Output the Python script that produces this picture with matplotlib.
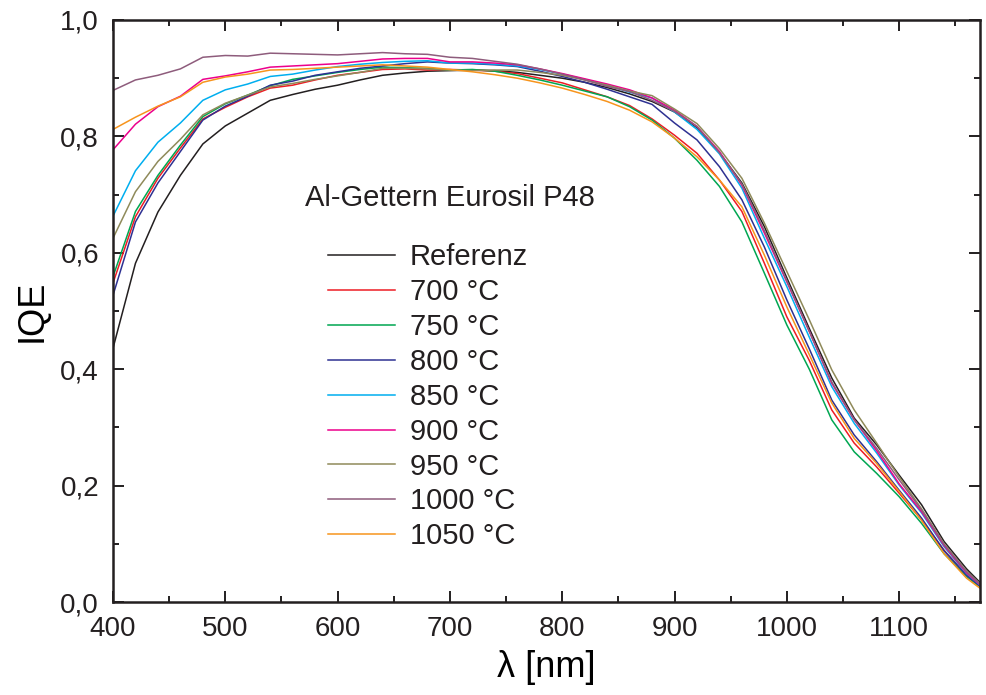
import matplotlib
matplotlib.use("Agg")
import matplotlib.pyplot as plt
from matplotlib.ticker import MultipleLocator, FuncFormatter

plt.rcParams['font.family'] = ['Liberation Sans', 'DejaVu Sans']

# wavelength grid (nm)
wl = list(range(400, 1181, 20))

referenz = [0.436, 0.582, 0.670, 0.733, 0.787, 0.818, 0.840, 0.862, 0.872, 0.881,
            0.888, 0.897, 0.905, 0.909, 0.912, 0.913, 0.914, 0.913, 0.910, 0.905,
            0.900, 0.893, 0.884, 0.873, 0.860, 0.842, 0.815, 0.772, 0.720, 0.645,
            0.557, 0.470, 0.385, 0.316, 0.270, 0.218, 0.167, 0.104, 0.057, 0.018]
t700 = [0.548, 0.662, 0.728, 0.780, 0.830, 0.850, 0.868, 0.883, 0.888, 0.897,
        0.905, 0.910, 0.915, 0.916, 0.914, 0.915, 0.914, 0.912, 0.908, 0.900,
        0.892, 0.880, 0.868, 0.853, 0.830, 0.802, 0.771, 0.725, 0.671, 0.582,
        0.490, 0.415, 0.330, 0.273, 0.232, 0.187, 0.141, 0.089, 0.046, 0.015]
t750 = [0.559, 0.671, 0.733, 0.785, 0.834, 0.856, 0.871, 0.887, 0.898, 0.904,
        0.910, 0.915, 0.919, 0.918, 0.917, 0.914, 0.915, 0.912, 0.905, 0.897,
        0.888, 0.878, 0.868, 0.851, 0.828, 0.797, 0.759, 0.714, 0.653, 0.565,
        0.476, 0.400, 0.313, 0.258, 0.221, 0.181, 0.135, 0.083, 0.044, 0.014]
t800 = [0.527, 0.653, 0.720, 0.774, 0.828, 0.852, 0.869, 0.888, 0.895, 0.905,
        0.911, 0.917, 0.921, 0.925, 0.928, 0.926, 0.925, 0.923, 0.920, 0.912,
        0.903, 0.893, 0.881, 0.868, 0.855, 0.823, 0.794, 0.748, 0.691, 0.610,
        0.519, 0.435, 0.347, 0.287, 0.241, 0.192, 0.144, 0.088, 0.046, 0.015]
t850 = [0.663, 0.741, 0.790, 0.823, 0.862, 0.880, 0.890, 0.903, 0.907, 0.914,
        0.920, 0.924, 0.927, 0.929, 0.930, 0.926, 0.926, 0.924, 0.921, 0.915,
        0.907, 0.898, 0.888, 0.876, 0.866, 0.842, 0.812, 0.770, 0.711, 0.625,
        0.542, 0.455, 0.370, 0.307, 0.256, 0.201, 0.153, 0.095, 0.049, 0.016]
t900 = [0.777, 0.821, 0.851, 0.869, 0.898, 0.904, 0.911, 0.919, 0.921, 0.923,
        0.925, 0.929, 0.933, 0.934, 0.934, 0.928, 0.928, 0.926, 0.923, 0.916,
        0.908, 0.899, 0.890, 0.880, 0.866, 0.845, 0.817, 0.774, 0.716, 0.634,
        0.550, 0.465, 0.376, 0.313, 0.260, 0.203, 0.155, 0.097, 0.050, 0.016]
t950 = [0.625, 0.705, 0.757, 0.795, 0.837, 0.857, 0.871, 0.885, 0.891, 0.898,
        0.904, 0.910, 0.917, 0.917, 0.916, 0.914, 0.913, 0.914, 0.914, 0.910,
        0.905, 0.897, 0.888, 0.878, 0.870, 0.847, 0.822, 0.779, 0.728, 0.651,
        0.568, 0.485, 0.399, 0.330, 0.273, 0.215, 0.160, 0.100, 0.053, 0.017]
t1000 = [0.879, 0.897, 0.905, 0.916, 0.936, 0.939, 0.938, 0.943, 0.942, 0.941,
         0.940, 0.942, 0.944, 0.942, 0.941, 0.936, 0.934, 0.929, 0.924, 0.916,
         0.907, 0.897, 0.886, 0.877, 0.862, 0.843, 0.817, 0.772, 0.718, 0.638,
         0.552, 0.465, 0.378, 0.313, 0.264, 0.210, 0.158, 0.099, 0.052, 0.017]
t1050 = [0.812, 0.833, 0.852, 0.868, 0.893, 0.902, 0.907, 0.914, 0.915, 0.917,
         0.919, 0.921, 0.923, 0.921, 0.919, 0.915, 0.911, 0.906, 0.900, 0.892,
         0.883, 0.872, 0.860, 0.845, 0.825, 0.797, 0.765, 0.725, 0.679, 0.596,
         0.507, 0.425, 0.342, 0.281, 0.238, 0.190, 0.140, 0.083, 0.041, 0.012]

labels = ["Referenz", "700 °C", "750 °C", "800 °C", "850 °C",
          "900 °C", "950 °C", "1000 °C", "1050 °C"]
series = [referenz, t700, t750, t800, t850, t900, t950, t1000, t1050]
colors = ["#231f20", "#ed1c24", "#00a651", "#2e3192", "#00aeef",
          "#ec008c", "#8f8a5a", "#8e5c7c", "#f7941d"]

fig = plt.figure(figsize=(9.86, 6.95), dpi=100)
ax = fig.add_axes([113/986, 1 - 602/695, 867/986, 582/695])

for ys, c, lab in zip(series, colors, labels):
    ax.plot(wl, ys, color=c, lw=1.1, label=lab)

ax.set_xlim(400, 1172)
ax.set_ylim(0, 1.0)
ax.xaxis.set_major_locator(MultipleLocator(100))
ax.xaxis.set_minor_locator(MultipleLocator(50))
ax.yaxis.set_major_locator(MultipleLocator(0.2))
ax.yaxis.set_minor_locator(MultipleLocator(0.1))
ax.yaxis.set_major_formatter(FuncFormatter(lambda v, p: f"{v:.1f}".replace(".", ",")))

ax.tick_params(which="both", direction="in", top=True, right=True,
               width=1.4, colors="#231f20")
ax.tick_params(which="major", length=8)
ax.tick_params(which="minor", length=4)
ax.tick_params(axis="x", labelsize=20, pad=10)
ax.tick_params(axis="y", labelsize=20, pad=10)
for s in ax.spines.values():
    s.set_linewidth(1.8)
    s.set_color("#231f20")

ax.set_xlabel("λ [nm]", fontsize=26, labelpad=6)
ax.set_ylabel("IQE", fontsize=26, labelpad=8)

ax.text(0.2215, 0.694, "Al-Gettern Eurosil P48", transform=ax.transAxes,
        fontsize=21, va="center", ha="left", color="#231f20")
leg = ax.legend(loc="upper left", bbox_to_anchor=(0.248, 0.616), frameon=False,
                fontsize=21, handlelength=2.3, handletextpad=0.5,
                labelspacing=0.235, borderpad=0, borderaxespad=0)
for t in leg.get_texts():
    t.set_color("#231f20")

fig.savefig("out.png", dpi=100)
